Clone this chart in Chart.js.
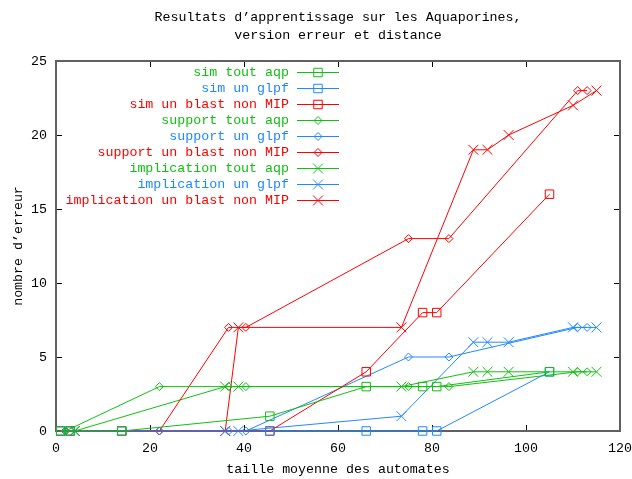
<!DOCTYPE html>
<html>
<head>
<meta charset="utf-8">
<script src="https://cdn.jsdelivr.net/npm/chart.js@4/dist/chart.umd.min.js"></script>
<style>
  html, body { margin: 0; padding: 0; background: #ffffff; }
  #wrap { width: 632px; height: 479px; }
</style>
</head>
<body>
<div id="wrap"><canvas id="c" width="632" height="479"></canvas></div>
<script>
// ---- data ----
const titleLines = ["Resultats d\u2019apprentissage sur les Aquaporines,", "version erreur et distance"];
const xTitle = "taille moyenne des automates";
const yTitle = "nombre d\u2019erreur";

const seriesLabels = [
  "sim tout aqp", "sim un glpf", "sim un blast non MIP",
  "support tout aqp", "support un glpf", "support un blast non MIP",
  "implication tout aqp", "implication un glpf", "implication un blast non MIP"
];

const simX = [1, 3, 14, 45.5, 66, 78, 81, 105];
const simToutAqp = [0, 0, 0, 1, 3, 3, 3, 4];
const simUnGlpf = [0, 0, 0, 0, 0, 0, 0, 4];
const simBlastNonMip = [0, 0, 0, 0, 4, 8, 8, 16];

const supportX = [2, 22, 36.7, 40.4, 75, 83.6, 111, 113];
const supportToutAqp = [0, 3, 3, 3, 3, 3, 4, 4];
const supportUnGlpf = [0, 0, 0, 0, 5, 5, 7, 7];
const supportBlastNonMip = [0, 0, 7, 7, 13, 13, 23, 23];

const implX = [4, 36, 38.8, 73.5, 88.8, 91.8, 96.3, 110, 115];
const implToutAqp = [0, 3, 3, 3, 4, 4, 4, 4, 4];
const implUnGlpf = [0, 0, 0, 1, 6, 6, 6, 7, 7];
const implBlastNonMip = [0, 0, 7, 7, 19, 19, 20, 22, 23];

const xTicks = [0, 20, 40, 60, 80, 100, 120];
const yTicks = [0, 5, 10, 15, 20, 25];

// ---- styles ----
const GREEN = '#10c010', BLUE = '#2088ff', RED = '#ff0000';
const FONT = '"Liberation Mono", "DejaVu Sans Mono", monospace';

function pts(xs, ys) { return xs.map((x, i) => ({ x: x, y: ys[i] })); }

const groups = [
  { xs: simX, ys: [simToutAqp, simUnGlpf, simBlastNonMip], style: 'rect', r: 6 },
  { xs: supportX, ys: [supportToutAqp, supportUnGlpf, supportBlastNonMip], style: 'rectRot', r: 4 },
  { xs: implX, ys: [implToutAqp, implUnGlpf, implBlastNonMip], style: 'crossRot', r: 7 }
];
const colors = [GREEN, BLUE, RED];

const datasets = [];
groups.forEach((g, gi) => {
  g.ys.forEach((ys, ci) => {
    datasets.push({
      label: seriesLabels[gi * 3 + ci],
      data: pts(g.xs, ys),
      borderColor: colors[ci],
      backgroundColor: 'rgba(0,0,0,0)',
      pointBackgroundColor: 'rgba(0,0,0,0)',
      pointBorderColor: colors[ci],
      pointStyle: g.style,
      pointRadius: g.r,
      pointHoverRadius: g.r,
      pointBorderWidth: 1,
      borderWidth: 1,
      tension: 0,
      clip: false
    });
  });
});

// frame + inward ticks on all sides
const framePlugin = {
  id: 'frame',
  beforeDatasetsDraw(chart) {
    const { ctx, chartArea: a, scales } = chart;
    ctx.save();
    ctx.strokeStyle = '#000000';
    ctx.lineWidth = 1;
    const L = 6;
    ctx.beginPath();
    xTicks.forEach(v => {
      const px = Math.round(scales.x.getPixelForValue(v)) + 0.5;
      ctx.moveTo(px, a.bottom); ctx.lineTo(px, a.bottom - L);
      ctx.moveTo(px, a.top); ctx.lineTo(px, a.top + L);
    });
    yTicks.forEach(v => {
      const py = Math.round(scales.y.getPixelForValue(v)) + 0.5;
      ctx.moveTo(a.left, py); ctx.lineTo(a.left + L, py);
      ctx.moveTo(a.right, py); ctx.lineTo(a.right - L, py);
    });
    ctx.stroke();
    ctx.strokeStyle = '#606060';
    ctx.lineWidth = 2;
    ctx.strokeRect(a.left, a.top, a.right - a.left, a.bottom - a.top);
    ctx.restore();
  }
};

// gnuplot-style key: right-aligned text, sample line + point on the right
const keyPlugin = {
  id: 'gpkey',
  afterDatasetsDraw(chart) {
    const { ctx } = chart;
    const textRight = 289, lineL = 297, lineR = 339, mx = 318, y0 = 72, dy = 16.05;
    ctx.save();
    ctx.font = '13.3px ' + FONT;
    ctx.textAlign = 'right';
    ctx.textBaseline = 'middle';
    chart.data.datasets.forEach((ds, i) => {
      const y = Math.round(y0 + i * dy) + 0.5;
      ctx.fillStyle = ds.borderColor;
      ctx.fillText(ds.label, textRight, y);
      ctx.strokeStyle = ds.borderColor;
      ctx.lineWidth = 1;
      ctx.beginPath(); ctx.moveTo(lineL, y); ctx.lineTo(lineR, y); ctx.stroke();
      ctx.fillStyle = 'rgba(0,0,0,0)';
      Chart.helpers.drawPoint(ctx, {
        pointStyle: ds.pointStyle, radius: ds.pointRadius, rotation: 0, borderWidth: 1
      }, mx, y);
    });
    ctx.restore();
  }
};

new Chart(document.getElementById('c'), {
  type: 'line',
  data: { datasets: datasets },
  plugins: [framePlugin, keyPlugin],
  options: {
    responsive: false,
    devicePixelRatio: 1,
    animation: false,
    events: [],
    layout: { padding: { top: 0, right: 12, left: 0, bottom: 0 } },
    plugins: {
      legend: { display: false },
      tooltip: { enabled: false },
      title: {
        display: true,
        fullSize: false,
        text: titleLines,
        color: '#000000',
        font: { family: FONT, size: 13.3, weight: 'normal', lineHeight: '18px' },
        padding: { top: 8, bottom: 17 }
      }
    },
    scales: {
      x: {
        type: 'linear',
        min: 0, max: 120,
        afterFit: s => { s.height = 48; s.paddingLeft = 0; s.paddingRight = 0; },
        afterBuildTicks: s => { s.ticks = xTicks.map(v => ({ value: v })); },
        grid: { display: false, drawTicks: false },
        border: { display: false },
        ticks: { color: '#000000', font: { family: FONT, size: 13.3 }, padding: 9, maxRotation: 0 },
        title: { display: true, text: xTitle, color: '#000000', font: { family: FONT, size: 13.3 }, padding: 2 }
      },
      y: {
        type: 'linear',
        min: 0, max: 25,
        afterFit: s => { s.width = 56; s.paddingTop = 0; s.paddingBottom = 0; },
        afterBuildTicks: s => { s.ticks = yTicks.map(v => ({ value: v })); },
        grid: { display: false, drawTicks: false },
        border: { display: false },
        ticks: { color: '#000000', font: { family: FONT, size: 13.3 }, padding: 9 },
        title: { display: true, text: yTitle, color: '#000000', font: { family: FONT, size: 13.3 }, padding: { top: 10, bottom: 0 } }
      }
    }
  }
});
</script>
</body>
</html>
